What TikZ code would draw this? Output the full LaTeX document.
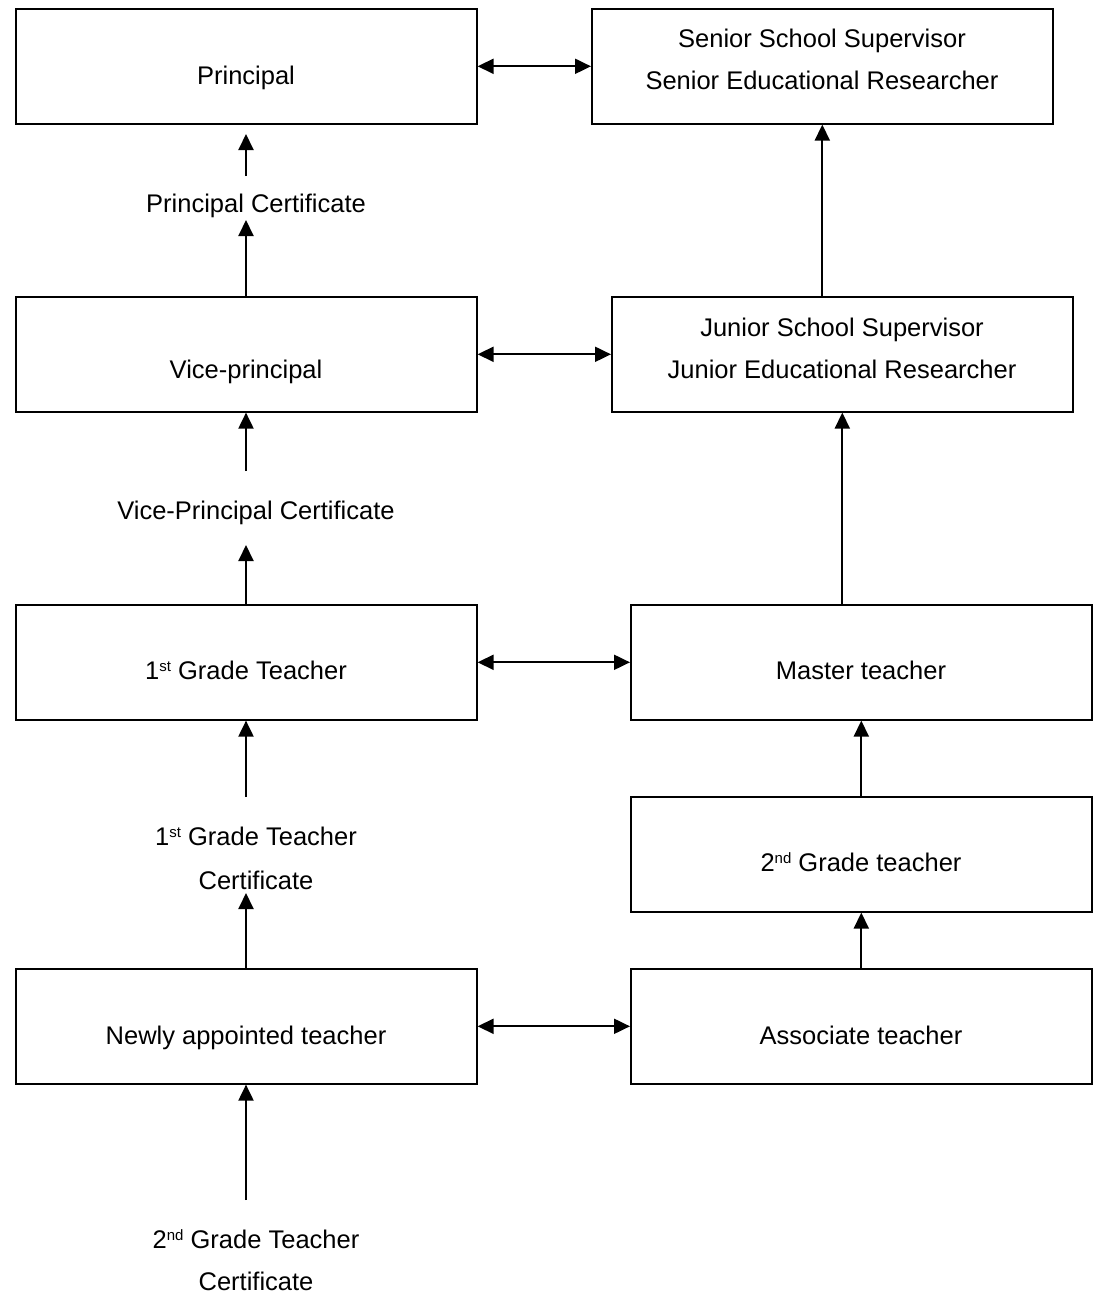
\documentclass[tikz,border=0pt]{standalone}
\usepackage{fontspec}
\setmainfont{Liberation Sans}
\usetikzlibrary{arrows.meta,calc}
\newcommand\ordsup[1]{\raisebox{0.3em}{\fontsize{15}{15}\selectfont #1}}
\begin{document}
\begin{tikzpicture}[x=1pt,y=-1pt,
  box/.style={draw,line width=1.6pt,minimum width=461pt,minimum height=115pt,inner sep=0pt,anchor=north west},
  txt/.style={font=\fontsize{25.5}{43}\selectfont,align=center,inner sep=0pt,text height=0.72em,text depth=0pt,yshift=-6pt},
  arr/.style={line width=2pt,-{Triangle[length=16pt,width=15pt]}},
  darr/.style={line width=2pt,{Triangle[length=16pt,width=15pt]}-{Triangle[length=16pt,width=15pt]}}]
\useasboundingbox (0,0) rectangle (1097,1295);
% boxes
\node[box] (principal) at (15,8) {};
\node[box] (senior) at (591,8) {};
\node[box] (vice) at (15,296) {};
\node[box] (junior) at (611,296) {};
\node[box] (first) at (15,604) {};
\node[box] (master) at (630,604) {};
\node[box] (second) at (630,796) {};
\node[box] (newly) at (15,968) {};
\node[box] (assoc) at (630,968) {};
% box texts
\node[txt] (tprincipal) at (246,75) {Principal};
\node[txt] (tsenior1) at (822,38) {Senior School Supervisor};
\node[txt] (tsenior2) at (822,80) {Senior Educational Researcher};
\node[txt] (tvice) at (246,369) {Vice-principal};
\node[txt] (tjunior1) at (842,327) {Junior School Supervisor};
\node[txt] (tjunior2) at (842,369) {Junior Educational Researcher};
\node[txt] (tfirst) at (246,670) {1\ordsup{st} Grade Teacher};
\node[txt] (tmaster) at (861,670) {Master teacher};
\node[txt] (tsecond) at (861,862) {2\ordsup{nd} Grade teacher};
\node[txt] (tnewly) at (246,1035) {Newly appointed teacher};
\node[txt] (tassoc) at (861,1035) {Associate teacher};
% certificates
\node[txt] (pc) at (256,203) {Principal Certificate};
\node[txt] (vpc) at (256,510) {Vice-Principal Certificate};
\node[txt] (fc1) at (256,836) {1\ordsup{st} Grade Teacher};
\node[txt] (fc2) at (256,880) {Certificate};
\node[txt] (sc1) at (256,1239) {2\ordsup{nd} Grade Teacher};
\node[txt] (sc2) at (256,1281) {Certificate};
% free ends
\coordinate (a1s) at (246,176);
\coordinate (a1e) at (246,134);
\coordinate (a2e) at (246,220);
\coordinate (a3s) at (246,471);
\coordinate (a4e) at (246,545);
\coordinate (a5s) at (246,797);
\coordinate (a6e) at (246,893);
\coordinate (a7s) at (246,1200);
% left column arrows
\draw[arr] (a1s) -- (a1e);
\draw[arr] (vice.north -| a2e) -- (a2e);
\draw[arr] (a3s) -- (vice.south -| a3s);
\draw[arr] (first.north -| a4e) -- (a4e);
\draw[arr] (a5s) -- (first.south -| a5s);
\draw[arr] (newly.north -| a6e) -- (a6e);
\draw[arr] (a7s) -- (newly.south -| a7s);
% right column arrows
\draw[arr] (junior.north -| senior.south) -- (senior.south);
\draw[arr] (master.north -| junior.south) -- (junior.south);
\draw[arr] (second.north) -- (master.south);
\draw[arr] (assoc.north) -- (second.south);
% horizontal double arrows
\draw[darr] (principal.east) -- (senior.west);
\draw[darr] (vice.east) -- (junior.west);
\draw[darr] (first.east) -- (master.west);
\draw[darr] (newly.east) -- (assoc.west);
\end{tikzpicture}
\end{document}
